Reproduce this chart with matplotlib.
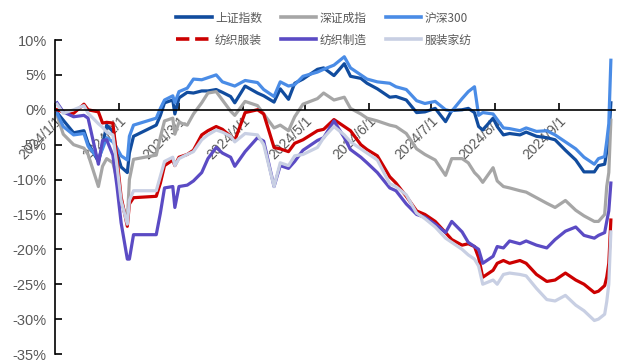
import datetime as dt
import matplotlib
matplotlib.use('Agg')
import matplotlib.pyplot as plt
from matplotlib.lines import Line2D

plt.rcParams['font.family'] = ['Liberation Sans', 'Noto Sans CJK SC', 'DejaVu Sans']

# sample dates (2024), cumulative change in %
dates = ['01-02', '01-05', '01-10', '01-15', '01-17', '01-22', '01-24', '01-26', '01-29', '01-31',
         '02-02', '02-05', '02-06', '02-08', '02-19', '02-21', '02-23', '02-27', '02-28', '03-01',
         '03-05', '03-08', '03-12', '03-15', '03-19', '03-22', '03-26', '03-28', '04-02', '04-08',
         '04-11', '04-16', '04-19', '04-23', '04-26', '04-30', '05-07', '05-10', '05-15', '05-20',
         '05-23', '05-28', '05-31', '06-05', '06-11', '06-14', '06-19', '06-24', '06-28', '07-03',
         '07-08', '07-11', '07-16', '07-19', '07-22', '07-24', '07-26', '07-31', '08-02', '08-05',
         '08-08', '08-13', '08-16', '08-21', '08-26', '08-30', '09-04', '09-09', '09-13', '09-18',
         '09-20', '09-23', '09-24', '09-25', '09-26']

sh_index = [-0.4, -1.5, -3.3, -3.0, -4.8, -7.4, -5.2, -2.2, -3.1, -6.2,
            -8.2, -9.0, -6.2, -3.8, -2.2, -0.8, 1.0, 1.4, -0.6, 1.7,
            2.5, 2.4, 2.7, 2.7, 2.9, 2.5, 1.9, 1.0, 3.4, 2.4,
            2.0, 1.1, 3.0, 1.5, 3.8, 4.4, 5.8, 6.0, 4.9, 6.6,
            4.8, 4.5, 3.8, 3.0, 1.8, 1.9, 1.4, -0.4, -0.3, 0.2,
            -1.7, -0.1, 0.0, 0.2, -0.4, -2.4, -2.9, -1.2, -2.4, -3.6,
            -3.4, -3.6, -3.2, -3.8, -4.0, -4.3, -5.8, -7.2, -8.9, -8.9,
            -8.0, -7.8, -6.0, -4.0, 1.0]

sz_index = [-0.8, -3.5, -5.0, -5.5, -6.4, -11.0, -8.1, -7.0, -7.6, -10.0,
            -13.0, -16.0, -10.0, -7.1, -6.5, -3.9, -1.6, -1.2, -3.5, -1.8,
            -2.2, -0.6, 1.0, 2.4, 2.6, 1.4, -0.2, -0.8, 1.2, 0.6,
            -0.6, -2.6, -2.2, -3.0, -1.0, 0.8, 1.6, 2.4, 1.4, 1.8,
            0.2, -0.6, -1.2, -1.6, -2.2, -2.4, -3.4, -5.6, -6.4, -7.2,
            -9.4, -7.0, -7.0, -7.6, -9.0, -9.6, -10.4, -8.3, -10.2, -11.0,
            -11.2, -11.6, -11.8, -12.6, -13.4, -14.0, -13.0, -14.4, -15.2, -16.0,
            -16.0, -15.0, -11.0, -9.0, -1.5]

hs300 = [-0.5, -2.4, -3.6, -3.4, -5.2, -7.0, -5.6, -4.0, -4.6, -5.5,
         -6.6, -7.2, -3.8, -2.2, -1.2, 0.2, 1.4, 2.0, 1.0, 2.6,
         3.1, 4.4, 4.3, 4.6, 5.0, 4.0, 3.6, 3.4, 4.2, 3.9,
         2.9, 1.9, 4.0, 3.4, 3.6, 4.8, 5.4, 5.8, 6.4, 7.6,
         6.0, 5.0, 4.4, 4.0, 3.8, 3.3, 2.9, 1.3, 0.9, 1.2,
         0.0, -0.2, 1.6, 2.6, 3.3, -0.8, -0.4, -0.6, -1.4, -2.6,
         -2.7, -3.0, -2.6, -3.1, -3.0, -3.6, -4.6, -5.6, -6.8, -7.8,
         -7.0, -6.7, -4.5, -2.0, 7.1]

textile_apparel = [0.0, -0.3, -0.5, 0.8, 0.0, -0.3, -1.9, -1.8, -1.9, -7.0,
                   -12.5, -16.7, -13.5, -12.6, -12.4, -10.5, -8.0, -7.2, -8.0, -6.8,
                   -6.4, -5.8, -3.6, -3.0, -2.4, -2.8, -3.8, -4.4, -0.4, 0.0,
                   -0.6, -5.4, -5.6, -6.0, -4.8, -4.3, -3.0, -2.8, -1.4, -2.4,
                   -3.0, -5.0, -5.7, -6.6, -9.6, -10.5, -12.4, -14.5, -15.0, -16.0,
                   -17.6, -18.6, -19.4, -19.2, -19.6, -21.2, -24.0, -23.0, -22.0, -21.6,
                   -22.0, -21.6, -22.0, -23.6, -24.6, -24.4, -23.4, -24.4, -25.0, -26.2,
                   -26.0, -25.2, -24.0, -22.0, -15.8]

textile_mfg = [1.0, -0.3, -1.0, -0.8, -1.2, -7.8, -4.4, -4.3, -6.5, -11.0,
               -16.2, -21.4, -21.4, -17.9, -17.9, -14.8, -11.2, -11.0, -14.0, -11.0,
               -10.8, -10.2, -9.0, -7.0, -5.4, -6.2, -6.8, -8.1, -6.0, -4.0,
               -4.5, -11.0, -8.0, -8.4, -7.4, -5.8, -4.4, -4.0, -1.6, -4.0,
               -5.7, -6.8, -7.6, -9.0, -11.2, -11.6, -13.5, -15.0, -15.4, -16.4,
               -17.6, -16.0, -17.5, -19.0, -19.6, -20.0, -22.0, -21.0, -19.6, -19.8,
               -18.8, -19.2, -18.8, -19.4, -19.8, -18.6, -17.4, -16.8, -18.0, -18.4,
               -18.0, -17.6, -16.0, -14.5, -10.5]

home_textile = [0.8, -0.5, 0.0, 0.6, -0.5, -2.0, -2.5, -3.2, -3.6, -8.0,
                -13.0, -16.4, -13.0, -11.6, -11.6, -9.5, -7.4, -6.8, -8.0, -7.0,
                -6.4, -6.0, -4.3, -3.6, -2.9, -3.2, -3.8, -4.6, -3.4, -3.6,
                -5.0, -11.0, -7.6, -8.0, -6.6, -6.4, -5.4, -4.0, -2.4, -3.6,
                -4.6, -5.6, -6.2, -7.2, -10.6, -11.0, -12.2, -14.8, -15.6, -16.8,
                -18.4, -19.0, -20.0, -20.8, -21.4, -22.4, -25.0, -24.4, -25.0, -23.6,
                -23.4, -23.6, -23.8, -25.6, -27.2, -27.4, -26.6, -28.0, -28.8, -30.2,
                -30.0, -29.3, -27.5, -25.0, -17.5]

labels = ['上证指数', '深证成指', '沪深300', '纺织服装', '纺织制造', '服装家纺']
colors = ['#114C9E', '#A6A6A6', '#4A8CE6', '#CC0000', '#5B4BC4', '#C8CFE3']
month_ticks = ['2024/%d/1' % m for m in range(1, 10)]

x = [dt.datetime.strptime('2024-' + d, '%Y-%m-%d') for d in dates]
all_series = [sh_index, sz_index, hs300, textile_apparel, textile_mfg, home_textile]

fig = plt.figure(figsize=(6.17, 3.62), dpi=100)
ax = fig.add_axes([55 / 617, 8 / 362, 560 / 617, 314 / 362])

for values, label, color in zip(all_series, labels, colors):
    ax.plot(x, values, color=color, lw=2.3, label=label, solid_joinstyle='round')

ax.set_xlim(dt.datetime(2024, 1, 1), dt.datetime(2024, 9, 28))
ax.set_ylim(-35, 10)
ax.set_yticks(range(-35, 11, 5))
ax.set_yticklabels(['%d%%' % v for v in range(-35, 11, 5)])
ax.set_xticks([dt.datetime(2024, m, 1) for m in range(1, 10)])
ax.set_xticklabels(month_ticks)

ax.spines['top'].set_visible(False)
ax.spines['right'].set_visible(False)
ax.spines['bottom'].set_position(('data', 0))
for s in ['left', 'bottom']:
    ax.spines[s].set_linewidth(1.2)
    ax.spines[s].set_color('black')
ax.tick_params(axis='y', direction='in', length=5, width=1.2, labelsize=10.5,
               labelcolor='#595959', pad=6)
ax.tick_params(axis='x', direction='in', length=5, width=1.2, labelsize=10,
               labelcolor='#595959', pad=3)
for lab in ax.get_xticklabels():
    lab.set_rotation(45)
    lab.set_ha('right')
    lab.set_rotation_mode('anchor')

handles = []
for label, color in zip(labels, colors):
    ls = '--' if label == '纺织服装' else '-'
    handles.append(Line2D([], [], color=color, lw=2.6, ls=ls))
order = [0, 3, 1, 4, 2, 5]
fig.legend([handles[i] for i in order], [labels[i] for i in order],
           ncol=3, loc='center', bbox_to_anchor=(0.525, 0.92), frameon=False,
           prop={'family': ['Noto Sans CJK SC'], 'size': 8.5},
           handlelength=3.0, handletextpad=0.3, columnspacing=1.6, labelspacing=0.75,
           labelcolor='#595959')

fig.savefig('out.png', dpi=100)
